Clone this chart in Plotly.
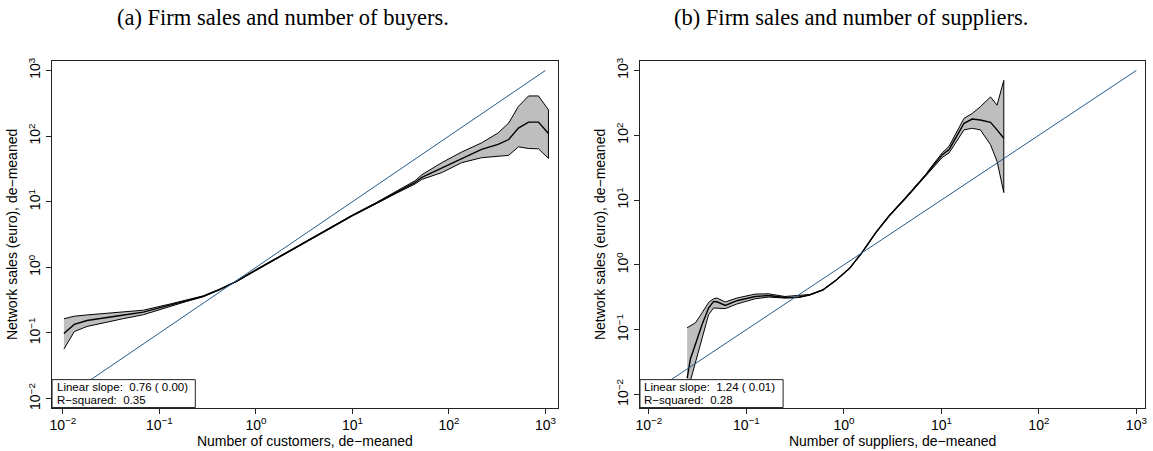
import numpy as np
import plotly.graph_objects as go

# ---------------- data (stored as log10 values) ----------------
# Panel (a): firm sales vs number of buyers
buyers_log_x = [-1.99, -1.883, -1.75, -1.58, -1.37, -1.168, -0.893, -0.72, -0.549, -0.38, -0.206,
                0.0, 0.275, 0.5, 0.75, 1.0, 1.25, 1.45, 1.649, 1.719, 1.925, 2.131, 2.338, 2.509,
                2.619, 2.72, 2.825, 2.928, 3.031]
buyers_log_mean = [-1.009, -0.869, -0.81, -0.768, -0.725, -0.683, -0.578, -0.51, -0.442, -0.34, -0.216,
                   -0.04, 0.187, 0.37, 0.58, 0.79, 0.98, 1.14, 1.293, 1.37, 1.51, 1.661, 1.796, 1.872,
                   1.947, 2.122, 2.213, 2.213, 2.038]
buyers_log_lower = [-1.246, -0.979, -0.90, -0.843, -0.78, -0.722, -0.595, -0.52, -0.45, -0.345, -0.22,
                    -0.045, 0.182, 0.365, 0.574, 0.783, 0.97, 1.125, 1.27, 1.34, 1.443, 1.594, 1.67, 1.695,
                    1.706, 1.836, 1.811, 1.805, 1.661]
buyers_log_upper = [-0.783, -0.744, -0.725, -0.703, -0.675, -0.653, -0.56, -0.50, -0.435, -0.335, -0.212,
                    -0.035, 0.192, 0.375, 0.586, 0.797, 0.99, 1.155, 1.32, 1.41, 1.594, 1.756, 1.896, 2.047,
                    2.198, 2.452, 2.611, 2.611, 2.40]

# Panel (b): firm sales vs number of suppliers
suppliers_log_x = [-1.608, -1.574, -1.523, -1.455, -1.388, -1.337, -1.302, -1.217, -1.098, -0.911,
                   -0.776, -0.605, -0.469, -0.35, -0.214, -0.078, 0.058, 0.178, 0.331, 0.466, 0.637,
                   0.841, 0.874, 1.01, 1.078, 1.232, 1.316, 1.40, 1.504, 1.571, 1.64]
suppliers_log_mean = [-1.75, -1.45, -1.226, -0.92, -0.666, -0.565, -0.57, -0.626, -0.554, -0.489,
                      -0.474, -0.504, -0.50, -0.463, -0.386, -0.234, -0.055, 0.174, 0.504, 0.759, 1.038,
                      1.38, 1.45, 1.70, 1.777, 2.183, 2.25, 2.235, 2.199, 2.083, 1.954]
suppliers_log_lower = [-2.6, -1.786, -1.481, -1.124, -0.768, -0.666, -0.666, -0.676, -0.605, -0.524,
                       -0.498, -0.513, -0.505, -0.468, -0.39, -0.238, -0.06, 0.168, 0.497, 0.75, 1.028,
                       1.365, 1.43, 1.66, 1.725, 2.083, 2.107, 2.083, 1.853, 1.598, 1.115]
suppliers_log_upper = [-0.971, -0.94, -0.895, -0.742, -0.58, -0.524, -0.513, -0.574, -0.513, -0.452,
                       -0.447, -0.489, -0.478, -0.458, -0.382, -0.23, -0.05, 0.18, 0.51, 0.768, 1.048,
                       1.395, 1.47, 1.73, 1.828, 2.26, 2.336, 2.44, 2.591, 2.464, 2.846]

# 45-degree reference line endpoints
ref_line = [0.01, 1000]

tick_vals = [0.01, 0.1, 1, 10, 100, 1000]
tick_text = ["10<sup>\u22122</sup>", "10<sup>\u22121</sup>", "10<sup>0</sup>",
             "10<sup>1</sup>", "10<sup>2</sup>", "10<sup>3</sup>"]

titles = ["(a) Firm sales and number of buyers.", "(b) Firm sales and number of suppliers."]
x_titles = ["Number of customers, de\u2212meaned", "Number of suppliers, de\u2212meaned"]
y_title = "Network sales (euro), de\u2212meaned"
stats_line1 = ["Linear slope:  0.76 ( 0.00)", "Linear slope:  1.24 ( 0.01)"]
stats_line2 = ["R\u2212squared:  0.35", "R\u2212squared:  0.28"]

# ---------------- figure ----------------
W, H = 1153, 451
BAND = "#BEBEBE"
BLUE = "#245B8C"
SANS = "Liberation Sans, Arial, Helvetica, sans-serif"
SERIF = "Liberation Serif, Times New Roman, serif"

fig = go.Figure()

panels = [
    (buyers_log_x, buyers_log_mean, buyers_log_lower, buyers_log_upper, "x", "y"),
    (suppliers_log_x, suppliers_log_mean, suppliers_log_lower, suppliers_log_upper, "x2", "y2"),
]

for lx, lm, ll, lu, xa, ya in panels:
    x = list(10 ** np.array(lx))
    m = list(10 ** np.array(lm))
    lo = list(10 ** np.array(ll))
    up = list(10 ** np.array(lu))
    fig.add_trace(go.Scatter(
        x=x + x[::-1], y=up + lo[::-1], mode="lines", fill="toself",
        fillcolor=BAND, line=dict(color="black", width=1),
        xaxis=xa, yaxis=ya, showlegend=False, hoverinfo="skip"))
    fig.add_trace(go.Scatter(
        x=x, y=m, mode="lines", line=dict(color="black", width=1.4),
        xaxis=xa, yaxis=ya, showlegend=False))
    fig.add_trace(go.Scatter(
        x=ref_line, y=ref_line, mode="lines", line=dict(color=BLUE, width=1),
        xaxis=xa, yaxis=ya, showlegend=False))

ax_common = dict(
    type="log", showgrid=False, zeroline=False, showline=True, mirror=True,
    linecolor="#222", linewidth=1, ticks="outside", ticklen=5, tickwidth=1,
    tickcolor="#222", tickvals=tick_vals, ticktext=tick_text,
    tickfont=dict(family=SANS, size=14, color="black"),
)

ydom = [1 - 409 / H, 1 - 58 / H]
fig.update_layout(
    width=W, height=H, margin=dict(l=0, r=0, t=0, b=0),
    paper_bgcolor="white", plot_bgcolor="white",
    xaxis=dict(ax_common, domain=[48.3 / W, 556.7 / W], range=[-2.113, 3.128],
               anchor="y",
               title=dict(text=x_titles[0], standoff=1, font=dict(family=SANS, size=14, color="black"))),
    yaxis=dict(ax_common, domain=ydom, range=[-2.136, 3.14], anchor="x", tickangle=-90,
               title=dict(text=y_title, standoff=4, font=dict(family=SANS, size=14, color="black"))),
    xaxis2=dict(ax_common, domain=[639.3 / W, 1147.3 / W], range=[-2.092, 3.092],
                anchor="y2",
                title=dict(text=x_titles[1], standoff=1, font=dict(family=SANS, size=14, color="black"))),
    yaxis2=dict(ax_common, domain=ydom, range=[-2.203, 3.142], anchor="x2", tickangle=-90,
                title=dict(text=y_title, standoff=4, font=dict(family=SANS, size=14, color="black"))),
)

# panel captions
for cx, t in zip([280 / W, 851 / W], titles):
    fig.add_annotation(x=cx, y=1 - 14 / H, xref="paper", yref="paper", text=t,
                       showarrow=False, xanchor="center", yanchor="middle",
                       font=dict(family=SERIF, size=22.5, color="black"))

# stats boxes in lower-left corner of each panel
box_w = 144 / 508.4
box_h = 28.3 / 351
for i, (xr, yr) in enumerate([("x domain", "y domain"), ("x2 domain", "y2 domain")]):
    fig.add_shape(type="rect", xref=xr, yref=yr, x0=0, x1=box_w, y0=0, y1=box_h,
                  fillcolor="white", line=dict(color="#222", width=1), layer="above")
    for yy, t in [(20.7 / 351, stats_line1[i]), (7.3 / 351, stats_line2[i])]:
        fig.add_annotation(x=2.5 / 508.4, y=yy, xref=xr, yref=yr, text=t, showarrow=False,
                           xanchor="left", yanchor="middle", align="left",
                           font=dict(family=SANS, size=11.5, color="black"))

fig.write_html("out.html", config={"displayModeBar": False},
               post_script="document.body.style.margin='0';document.body.style.overflow='hidden';")
